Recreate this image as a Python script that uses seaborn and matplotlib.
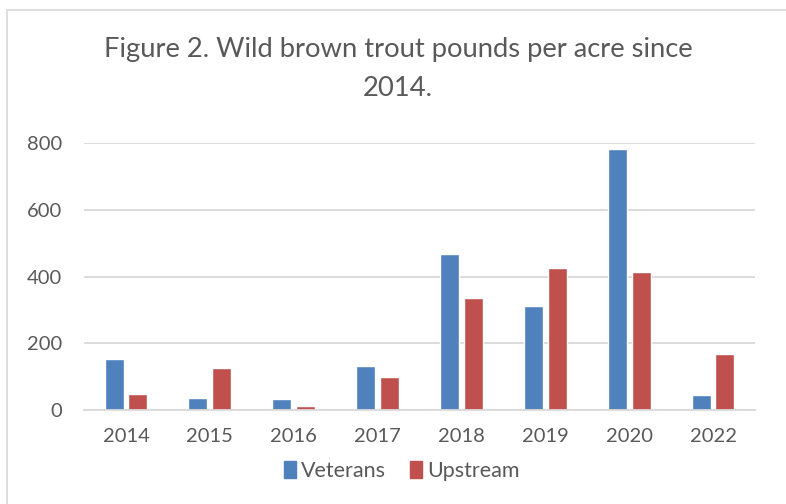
import matplotlib
matplotlib.use("Agg")
import matplotlib.pyplot as plt
import seaborn as sns
import pandas as pd
from matplotlib.patches import Rectangle

years = ["2014", "2015", "2016", "2017", "2018", "2019", "2020", "2022"]
veterans = [155, 38, 34, 134, 469, 311, 783, 45]
upstream = [49, 126, 13, 101, 337, 425, 415, 168]
series_names = ["Veterans", "Upstream"]
colors = ["#4F81BD", "#C0504D"]
yticks = [0, 200, 400, 600, 800]

df = pd.DataFrame({
    "year": years * 2,
    "value": veterans + upstream,
    "series": [series_names[0]] * len(years) + [series_names[1]] * len(years),
})

sns.set_theme(style="white")
plt.rcParams["font.family"] = ["Lato", "DejaVu Sans"]

W, H = 786, 504
fig = plt.figure(figsize=(W / 100, H / 100), dpi=100)
fig.patch.set_facecolor("white")
fig.add_artist(Rectangle((7 / W, -0.1), 1.2, 1 - 10 / H + 0.1, transform=fig.transFigure,
                         fill=False, edgecolor="#D9D9D9", linewidth=1.2))

left, right, top, bottom = 84, 755, 143, 410.3
ax = fig.add_axes([left / W, 1 - bottom / H, (right - left) / W, (bottom - top) / H])

sns.barplot(data=df, x="year", y="value", hue="series", order=years,
            hue_order=series_names, palette=colors, width=0.565, gap=0.2,
            saturation=1, ax=ax, legend=False)

ax.set_ylim(0, 800)
ax.set_yticks(yticks)
ax.set_xlim(-0.5, len(years) - 0.5)
ax.yaxis.grid(True, color="#D9D9D9", linewidth=1.3)
ax.set_axisbelow(True)
for s in ["top", "right", "left"]:
    ax.spines[s].set_visible(False)
ax.spines["bottom"].set_color("#D9D9D9")
ax.spines["bottom"].set_linewidth(1.3)
ax.tick_params(axis="both", length=0, labelsize=14.5, labelcolor="#595959")
ax.tick_params(axis="y", pad=16)
ax.tick_params(axis="x", pad=13)
ax.set_xlabel("")
ax.set_ylabel("")

fig.text(398 / W, 1 - 50 / H, "Figure 2. Wild brown trout pounds per acre since",
         ha="center", va="center", fontsize=19.7, color="#595959")
fig.text(398 / W, 1 - 88 / H, "2014.", ha="center", va="center", fontsize=19.7, color="#595959")

handles = [Rectangle((0, 0), 1, 1, color=c) for c in colors]
fig.legend(handles, series_names, loc="center", bbox_to_anchor=(402 / W, 1 - 471 / H),
           ncol=2, frameon=False, fontsize=15.5, handlelength=0.55, handleheight=0.8,
           handletextpad=0.25, columnspacing=1.1, labelcolor="#595959")

fig.savefig("out.png", dpi=100)
